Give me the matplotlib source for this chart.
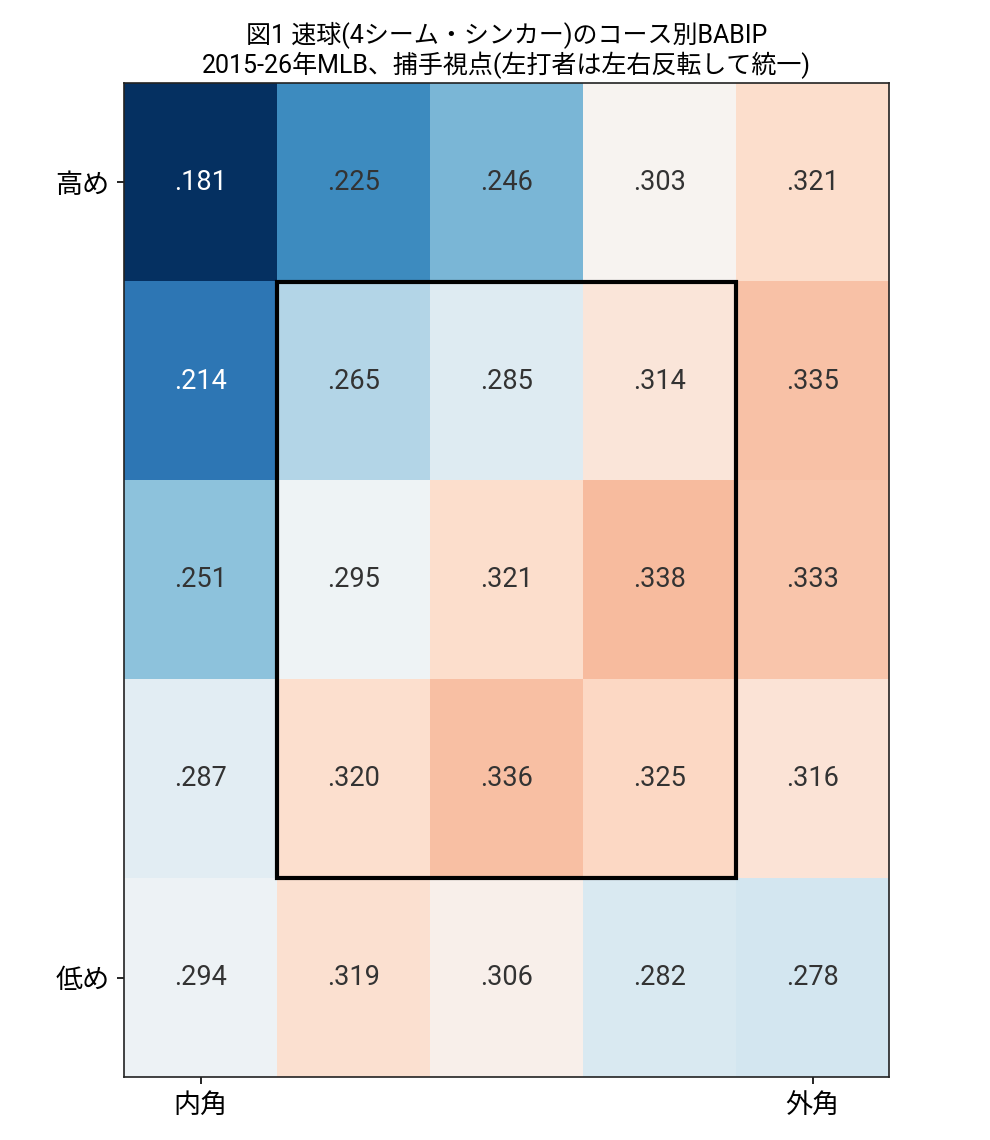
import matplotlib
matplotlib.use("Agg")
import matplotlib.pyplot as plt
import numpy as np
from matplotlib.patches import Rectangle
from matplotlib.colors import Normalize

plt.rcParams['font.family'] = ['Roboto', 'Noto Sans CJK JP', 'DejaVu Sans']

row_labels = ["高め", "", "", "", "低め"]
col_labels = ["内角", "", "", "", "外角"]
babip = [
    [0.181, 0.225, 0.246, 0.303, 0.321],
    [0.214, 0.265, 0.285, 0.314, 0.335],
    [0.251, 0.295, 0.321, 0.338, 0.333],
    [0.287, 0.320, 0.336, 0.325, 0.316],
    [0.294, 0.319, 0.306, 0.282, 0.278],
]
title = "図1 速球(4シーム・シンカー)のコース別BABIP\n2015-26年MLB、捕手視点(左打者は左右反転して統一)"

data = np.array(babip)
fig = plt.figure(figsize=(6.6, 7.6), dpi=150)
ax = fig.add_axes([0.1253, 0.0553, 0.7727, 0.8719])
vmin, vmax = 0.181, 0.419
norm = Normalize(vmin=vmin, vmax=vmax)
ax.imshow(data, cmap="RdBu_r", norm=norm, aspect="auto")
for i in range(data.shape[0]):
    for j in range(data.shape[1]):
        v = data[i, j]
        txt = f"{v:.3f}"[1:]
        color = "white" if norm(v) < 0.16 else "#333333"
        ax.text(j, i, txt, ha="center", va="center", fontsize=13, color=color)

ax.add_patch(Rectangle((0.5, 0.5), 3, 3, fill=False, edgecolor="black", linewidth=2, zorder=5))

ax.set_xticks([0, 4])
ax.set_xticklabels([col_labels[0], col_labels[4]], fontsize=13)
ax.set_yticks([0, 4])
ax.set_yticklabels([row_labels[0], row_labels[4]], fontsize=13)
for s in ax.spines.values():
    s.set_color("#222222")
ax.set_title(title, fontsize=12, linespacing=1.1, pad=5)
fig.savefig("out.png", dpi=150)
